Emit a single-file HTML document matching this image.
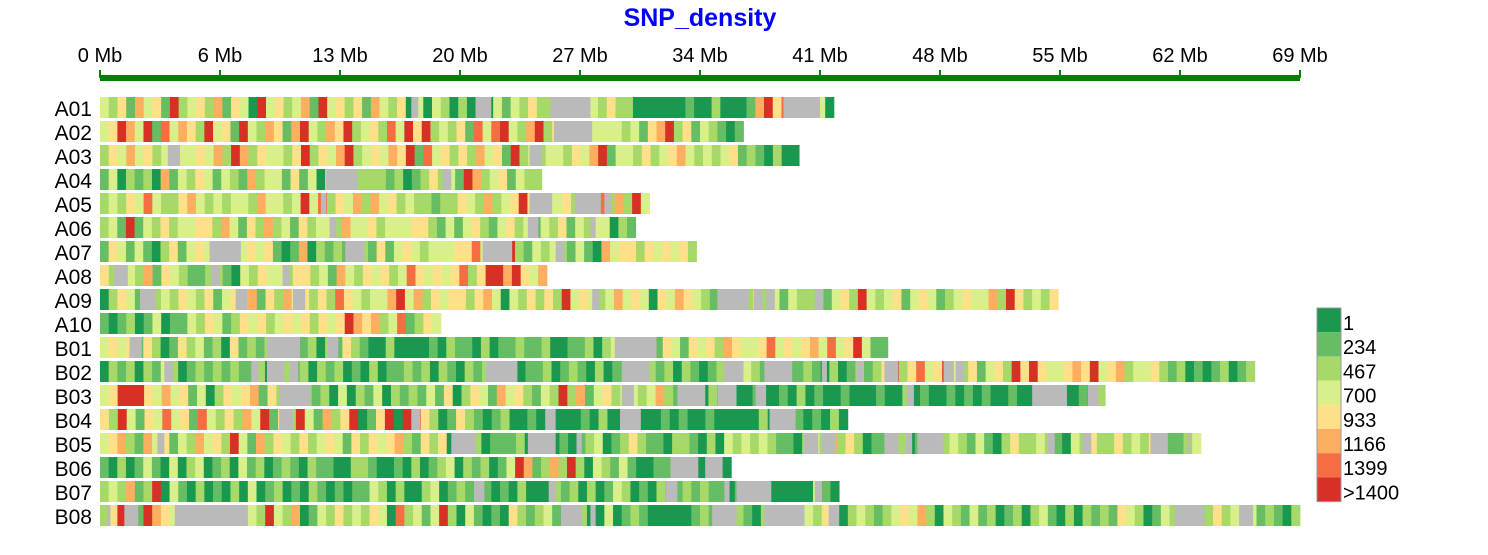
<!DOCTYPE html>
<html><head><meta charset="utf-8">
<style>
html,body{margin:0;padding:0;background:#fff;}
svg{display:block;font-family:"Liberation Sans",sans-serif;}
</style></head>
<body>
<svg id="chart" width="1488" height="555" viewBox="0 0 1488 555" xmlns="http://www.w3.org/2000/svg">
<text x="700" y="26" text-anchor="middle" font-size="25" font-weight="bold" fill="#0000ff">SNP_density</text>
<g id="axis"></g>
<g id="bars"></g>
<g id="legend"></g>
</svg>
<script>
const chromNames = ["A01","A02","A03","A04","A05","A06","A07","A08","A09","A10","B01","B02","B03","B04","B05","B06","B07","B08"];
const chromLengths = [42.2,37.0,40.2,25.4,31.6,30.8,34.3,25.7,55.1,19.6,45.3,66.4,57.8,43.0,63.3,36.3,42.5,69.0];
const gapRegions = [
 [[17.9,18.3],[21.6,22.5],[25.9,28.2],[39.3,41.4]],
 [[26.1,28.3]],
 [[3.9,4.6],[24.7,25.4]],
 [[13.0,14.8],[19.7,20.2]],
 [[12.7,13.0],[24.7,26.0],[27.3,28.8],[29.0,29.4]],
 [[13.2,13.6],[24.6,25.2],[28.2,28.5]],
 [[6.3,8.1],[14.1,15.2],[22.0,23.7],[26.2,26.7]],
 [[0.8,1.6],[6.4,6.9],[10.5,10.9]],
 [[2.3,3.2],[7.8,8.5],[11.1,11.8],[28.3,28.7],[35.5,37.3],[37.6,38.1],[38.3,38.8],[41.1,41.6]],
 [],
 [[1.7,2.4],[9.6,11.5],[13.1,13.7],[29.6,32.0]],
 [[3.7,4.2],[8.7,9.1],[9.6,10.6],[10.9,11.4],[22.2,24.0],[30.0,31.6],[35.9,37.0],[38.2,39.8],[41.5,41.8],[43.5,43.9],[45.1,45.9],[48.5,49.1],[49.2,49.7]],
 [[10.3,12.1],[30.0,30.7],[33.2,34.8],[35.5,36.6],[37.7,38.3],[46.4,46.8],[53.6,55.6],[56.8,57.4]],
 [[10.3,11.1],[17.9,18.4],[25.6,26.2],[29.9,31.1],[38.5,40.0]],
 [[3.3,3.7],[20.2,21.6],[24.6,26.2],[27.4,27.7],[40.5,41.3],[41.5,42.3],[45.1,45.9],[46.3,46.7],[47.0,48.5],[54.5,54.9],[56.5,57.0],[60.4,61.4],[62.5,62.7]],
 [[32.8,34.4],[34.8,35.8]],
 [[21.5,22.1],[25.8,26.2],[32.5,33.2],[35.9,36.2],[36.6,38.6],[41.1,41.5]],
 [[0.4,0.6],[1.4,2.2],[4.3,8.5],[26.5,27.7],[28.2,28.5],[35.2,36.6],[38.2,40.5],[41.9,42.5],[61.8,63.5],[65.5,66.3]]
];
const densityClasses = [
 "435264528345362541845346284535264351414313141424353344424353311111121131112685784541",
 "45864827465384528436526843658345374858343527478436835644444434256835243212",
 "35464534444546386354435835468345465827453536452834344354682443534564343452321311",
 "241323162435424326344252414353333231235342863452433",
 "343547433564343443644348473546364534332335436345854445342736384",
 "34282435344553642536342534436445344455324245324534243524344132",
 "254242135245454545452126132324325245434445574858324343242164553545453",
 "535436254322332143544355342643545347545457358868546",
 "13542634354352454625364535375434468463545535641435353845434645415465432434353424333245384345245423454463853435",
 "212312412243542354534545354586563472354",
 "4545253125342315232345323132532113111121322131223223112231343535254254536544574545647458422",
 "1323132431232323223123231323121312232313213232131223123213122313231321231243231223213123235835745843524538585445658456344532312123123",
 "458885464524135456253623231413241323242513542645324383624534434632431313112112131211211121131211212121121113111213",
 "538425474527435364825384263581258188531253212311211111213111111212112111113111212131",
 "4563264524364538426354353454253545632535131312223112121234123532213321314343432213436353122431213343242135334321435335343532234",
 "2131242141341231423123213221133211213123413231248623638314324211224241311",
 "3436238142131213141231213212122431311341232121213111323131243121312323221221311111421",
 "358428654323535264384361243534354173424831421215323421131141232111112321432132523435213432345463143242312313421313232543124323235345423213"
];
const legendColors = ["#1a9850","#66bd63","#a6d96a","#d9ef8b","#fee08b","#fdae61","#f46d43","#d73027"];
const legendLabels = ["1","234","467","700","933","1166","1399",">1400"];
const tickValues = [0,6.9,13.8,20.7,27.6,34.5,41.4,48.3,55.2,62.1,69];
const tickLabels = ["0 Mb","6 Mb","13 Mb","20 Mb","27 Mb","34 Mb","41 Mb","48 Mb","55 Mb","62 Mb","69 Mb"];

const NS = "http://www.w3.org/2000/svg";
const X0 = 100, X1 = 1300, MAXMB = 69;
function xScale(mb){ return X0 + mb/MAXMB*(X1-X0); }
function rowY(i){ return 97 + i*24; }
const ROWH = 21;
function mk(tag, attrs, parent){
  const e = document.createElementNS(NS, tag);
  for (const k in attrs) e.setAttribute(k, attrs[k]);
  parent.appendChild(e);
  return e;
}
const axis = document.getElementById("axis");
const axLine = mk("rect",{x:X0,y:75,width:X1-X0,height:6,fill:"#008000"},axis);


tickValues.forEach((v,i)=>{
  const t = mk("line",{x1:xScale(v),x2:xScale(v),y1:70,y2:78,stroke:"#008000","stroke-width":2},axis);
  
  
  const l = mk("text",{x:xScale(v),y:62,"text-anchor":"middle","font-size":20,fill:"#000"},axis);
  l.textContent = tickLabels[i];
  
  
});
const bars = document.getElementById("bars");
chromNames.forEach((name,i)=>{
  const y = rowY(i);
  const g = mk("g",{},bars);
  
  
  const lab = mk("text",{x:92,y:y+19,"text-anchor":"end","font-size":21,fill:"#000"},g);
  lab.textContent = name;
  
  
  const s = densityClasses[i];
  const len = chromLengths[i];
  const w = len/s.length;
  for (let k=0;k<s.length;k++){
    const c = parseInt(s[k],10);
    const xa = xScale(k*w), xb = xScale(Math.min(len,(k+1)*w));
    const r = mk("rect",{x:xa,y:y,width:xb-xa+0.4,height:ROWH,fill:legendColors[c-1]},g);
    
    
  }
  gapRegions[i].forEach(gp=>{
    const xa = xScale(gp[0]), xb = xScale(gp[1]);
    const r = mk("rect",{x:xa,y:y,width:xb-xa,height:ROWH,fill:"#bababa"},g);
    
    
  });
});
const legend = document.getElementById("legend");
legendColors.forEach((c,i)=>{
  const y = 308 + i*24.2;
  const r = mk("rect",{x:1317,y:y,width:24,height:24.2,fill:c},legend);
  
  
  const t = mk("text",{x:1343,y:y+22,"font-size":20,fill:"#000"},legend);
  t.textContent = legendLabels[i];
  
  
});
const lb = mk("rect",{x:1317,y:308,width:24,height:193.6,fill:"none",stroke:"#999","stroke-width":1},legend);


</script>
</body></html>
